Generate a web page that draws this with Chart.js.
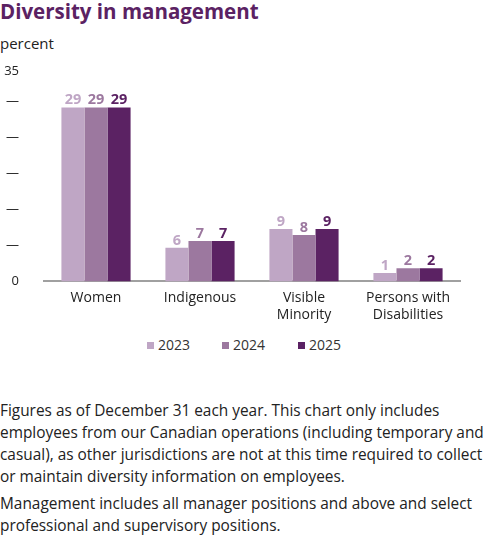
<!DOCTYPE html>
<html>
<head>
<meta charset="utf-8">
<script src="https://cdn.jsdelivr.net/npm/chart.js@4"></script>
<style>
  body { margin: 0; background: #fff; font-family: "Open Sans", sans-serif; color: #222; }
  #wrap { position: relative; width: 500px; height: 536px; overflow: hidden; }
  h1 { position: absolute; left: 0; top: -3px; margin: 0; font-size: 20.5px; font-weight: 700; color: #5b2263; white-space: nowrap; }
  .unit { position: absolute; left: 0; top: 33px; font-size: 15px; }
  #box { position: absolute; left: 0; top: 38px; width: 500px; height: 295px; }
  #legend { position: absolute; left: 0; top: 335px; width: 500px; height: 20px; }
  .lg { position: absolute; top: 0; font-size: 14px; line-height: 20px; color: #333; }
  .lg i { position: absolute; left: 0; top: 7px; width: 7px; height: 7px; }
  .lg span { position: absolute; left: 11px; top: 0; white-space: nowrap; }
  .note { position: absolute; left: 0; font-size: 15.4px; line-height: 22px; color: #222; white-space: nowrap; }
</style>
</head>
<body>
<div id="wrap">
  <h1>Diversity in management</h1>
  <div class="unit">percent</div>
  <div id="box"><canvas id="diversityChart"></canvas></div>
  <div id="legend"></div>
  <div class="note" style="top:400px">Figures as of December 31 each year. This chart only includes<br>employees from our Canadian operations (including temporary and<br>casual), as other jurisdictions are not at this time required to collect<br>or maintain diversity information on employees.</div>
  <div class="note" style="top:493px">Management includes all manager positions and above and select<br>professional and supervisory positions.</div>
</div>
<script>
const categories = ['Women', 'Indigenous', ['Visible', 'Minority'], ['Persons with', 'Disabilities']];
const years = ['2023', '2024', '2025'];
const values2023 = [28.9, 5.6, 8.7, 1.4];
const values2024 = [28.9, 6.7, 7.7, 2.2];
const values2025 = [28.9, 6.7, 8.7, 2.2];
const labels2023 = ['29', '6', '9', '1'];
const labels2024 = ['29', '7', '8', '2'];
const labels2025 = ['29', '7', '9', '2'];
const yTicks = [0, 6, 12, 18, 24, 30, 35];

const colors = ['#bfa6c5', '#9c789f', '#5b2263'];

// value labels on top of each bar
const barLabels = {
    id: 'barLabels',
    afterDatasetsDraw(chart) {
        const ctx = chart.ctx;
        ctx.save();
        ctx.font = 'bold 14.5px "Open Sans", sans-serif';
        ctx.textAlign = 'center';
        ctx.textBaseline = 'bottom';
        chart.data.datasets.forEach((ds, i) => {
            const meta = chart.getDatasetMeta(i);
            meta.data.forEach((bar, j) => {
                ctx.fillStyle = ds.backgroundColor;
                ctx.fillText(ds.valueLabels[j], bar.x, bar.y);
            });
        });
        ctx.restore();
    }
};

const chart = new Chart(document.getElementById('diversityChart'), {
    type: 'bar',
    data: {
        labels: categories,
        datasets: [
            { label: years[0], data: values2023, valueLabels: labels2023, backgroundColor: colors[0] },
            { label: years[1], data: values2024, valueLabels: labels2024, backgroundColor: colors[1] },
            { label: years[2], data: values2025, valueLabels: labels2025, backgroundColor: colors[2] }
        ]
    },
    options: {
        responsive: true,
        maintainAspectRatio: false,
        animation: false,
        categoryPercentage: 0.665,
        barPercentage: 1.0,
        layout: { padding: { top: 11, right: 40, left: 0, bottom: 2 } },
        plugins: {
            tooltip: { enabled: false },
            legend: { display: false }
        },
        scales: {
            x: {
                grid: { display: false, drawTicks: false },
                border: { display: true, color: '#a0a0a0', width: 2 },
                ticks: { color: '#222', padding: 8, font: { family: 'Open Sans', size: 14 } }
            },
            y: {
                min: 0,
                max: 35,
                grid: { display: false, drawTicks: false },
                border: { display: false },
                afterBuildTicks: axis => { axis.ticks = yTicks.map(v => ({ value: v })); },
                afterFit: axis => { axis.width = 44; },
                ticks: {
                    color: '#222',
                    padding: 25,
                    font: { family: 'Open Sans', size: 13 },
                    callback: v => (v === 0 || v === 35) ? String(v) : '—'
                }
            }
        }
    },
    plugins: [barLabels]
});

// legend
const legendX = [147, 222, 298];
document.getElementById('legend').innerHTML = years.map((y, i) => `
    <div class="lg" style="left:${legendX[i]}px"><i style="background:${colors[i]}"></i><span>${y}</span></div>
`).join('');
</script>
</body>
</html>
